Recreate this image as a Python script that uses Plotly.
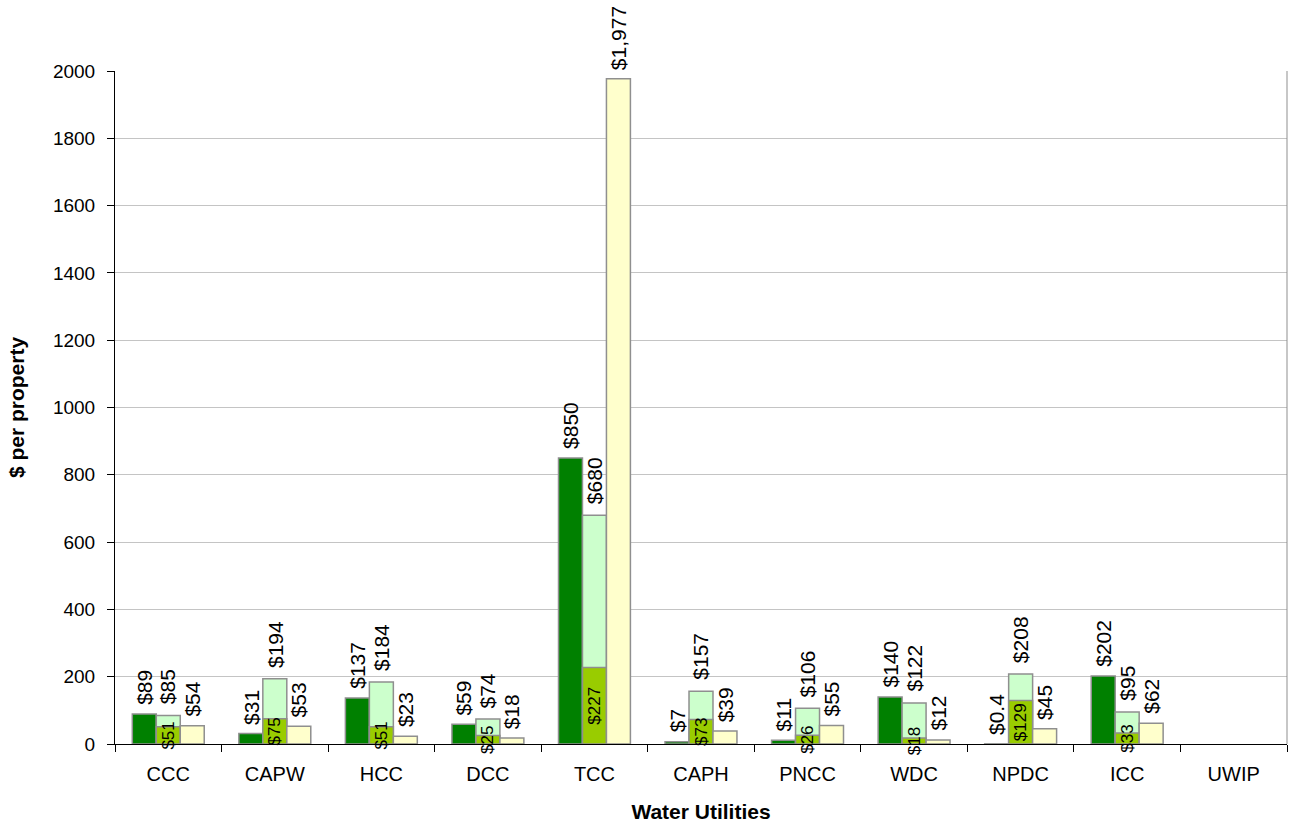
import plotly.graph_objects as go

# Cost per property for each water utility
utilities = ["CCC", "CAPW", "HCC", "DCC", "TCC", "CAPH", "PNCC", "WDC", "NPDC", "ICC", "UWIP"]
cost_first = [89, 31, 137, 59, 850, 7, 11, 140, 0.4, 202, None]
cost_second_total = [85, 194, 184, 74, 680, 157, 106, 122, 208, 95, None]
cost_second_part = [51, 75, 51, 25, 227, 73, 26, 18, 129, 33, None]
cost_third = [54, 53, 23, 18, 1977, 39, 55, 12, 45, 62, None]

FONT = "Liberation Sans, Arial, sans-serif"
OUTLINE = dict(color="#8f8f8f", width=1.5)
BAR_W = 0.225
PX_PER_CAT = (1294 - 115 - 7) / len(utilities)


def money(v):
    return f"${v:,g}"


fig = go.Figure()

series = [
    (cost_first, "#008000", -1.5 * BAR_W),
    (cost_second_total, "#CCFFCC", -0.5 * BAR_W),
    (cost_second_part, "#99CC00", -0.5 * BAR_W),
    (cost_third, "#FFFFCC", 0.5 * BAR_W),
]

for vals, colour, off in series:
    inner = vals is cost_second_part
    fig.add_trace(go.Bar(
        x=utilities, y=vals, width=BAR_W, offset=off,
        marker=dict(color=colour, line=OUTLINE),
        text=[money(v) if v is not None else "" for v in vals] if inner else None,
        textposition="inside" if inner else "none",
        insidetextanchor="middle",
        textangle=-90,
        constraintext="none",
        textfont=dict(family=FONT, size=17, color="black"),
        cliponaxis=False,
        showlegend=False,
        hoverinfo="x+y",
    ))

# Value labels above the bars
annotations = []
for vals, shift, gap in [(cost_first, -1, 7), (cost_second_total, 0, 9), (cost_third, 1, 7)]:
    for cat, v in zip(utilities, vals):
        if v is None:
            continue
        annotations.append(dict(
            x=cat, y=v, xref="x", yref="y",
            text=money(v), showarrow=False, textangle=-90,
            xanchor="center", yanchor="bottom",
            xshift=shift * BAR_W * PX_PER_CAT, yshift=gap,
            font=dict(family=FONT, size=21, color="black"),
        ))

fig.update_layout(
    width=1294, height=827,
    margin=dict(l=115, r=7, t=71, b=83),
    paper_bgcolor="white", plot_bgcolor="white",
    barmode="overlay",
    font=dict(family=FONT, color="black"),
    annotations=annotations,
    shapes=[dict(type="line", xref="paper", yref="paper", x0=1, x1=1, y0=0, y1=1,
                 line=dict(color="#8f8f8f", width=1))],
)

fig.update_xaxes(
    range=[-0.5, len(utilities) - 0.5],
    showline=True, linecolor="black", linewidth=1,
    ticks="outside", tickson="boundaries", ticklen=7, tickcolor="black",
    tickfont=dict(family=FONT, size=20),
    ticklabelstandoff=12,
    showgrid=False,
    title=dict(text="<b>Water Utilities</b>", font=dict(family=FONT, size=21), standoff=20),
)

fig.update_yaxes(
    range=[0, 2000], dtick=200,
    showline=True, linecolor="black", linewidth=1,
    ticks="outside", ticklen=7, tickcolor="black",
    tickfont=dict(family=FONT, size=19),
    ticklabelstandoff=8,
    showgrid=True, gridcolor="#c4c4c4", gridwidth=1,
    zeroline=False,
    title=dict(text="<b>$ per property</b>", font=dict(family=FONT, size=21), standoff=22),
)

fig.write_html("out.html")
